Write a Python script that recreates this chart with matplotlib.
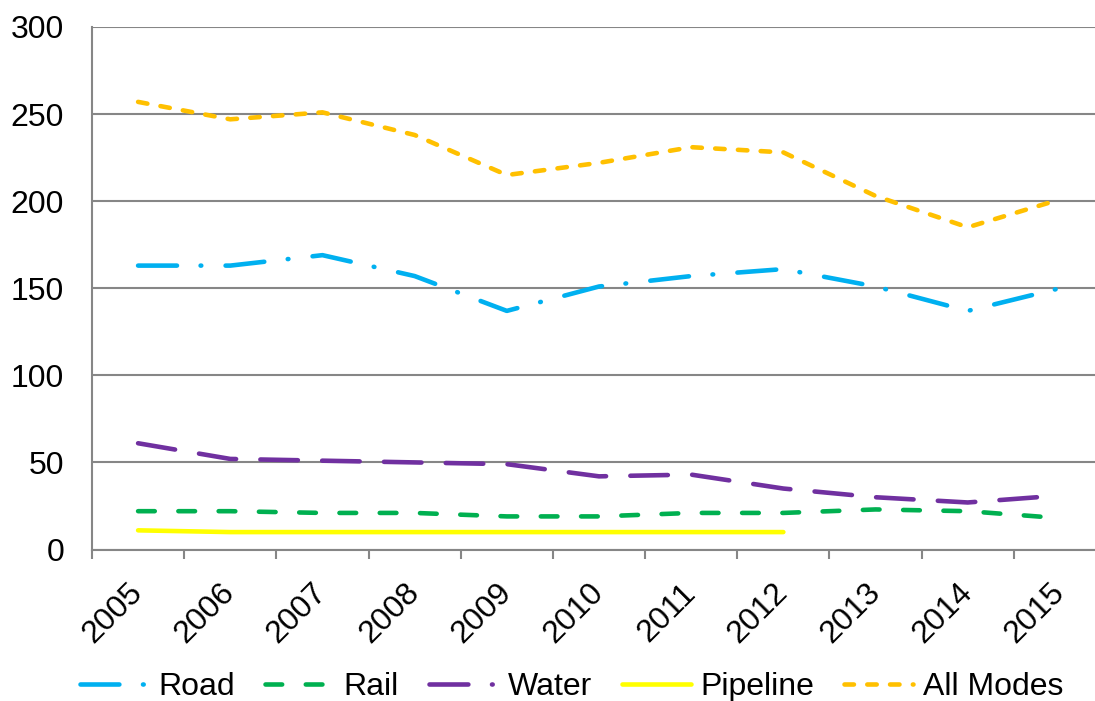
import numpy as np
import matplotlib
matplotlib.use('Agg')
import matplotlib.pyplot as plt
from matplotlib.lines import Line2D

plt.rcParams['font.family'] = ['Liberation Sans', 'DejaVu Sans']
plt.rcParams['lines.scale_dashes'] = False

years = ['2005', '2006', '2007', '2008', '2009', '2010',
         '2011', '2012', '2013', '2014', '2015']
road = [163, 163, 169, 157, 137, 151, 157, 161, 151, 137, 150]
rail = [22, 22, 21, 21, 19, 19, 21, 21, 23, 22, 18]
water = [61, 52, 51, 50, 49, 42, 43, 35, 30, 27, 31]
pipeline = [11, 10, 10, 10, 10, 10, 10, 10]
all_modes = [257, 247, 251, 238, 215, 222, 231, 228, 203, 185, 201]

grid_col = '#868686'
fs = 23
x = np.arange(len(years))

fig = plt.figure(figsize=(10.95, 7.01), dpi=100)
ax = fig.add_axes([92 / 1095, 151.5 / 701, 1014 / 1095, 522.5 / 701])

lw = 3.3
ax.plot(x, road, color='#00B0F0', lw=lw, dashes=(28, 17, 0.5, 17.5),
        dash_capstyle='round', solid_capstyle='round', zorder=3)
ax.plot(x, rail, color='#00B050', lw=lw, dashes=(12, 17),
        dash_capstyle='round', zorder=3)
ax.plot(x, water, color='#7030A0', lw=lw, dashes=(27, 17.5),
        dash_capstyle='round', zorder=3)
ax.plot(x[:len(pipeline)], pipeline, color='#FFFF00', lw=lw,
        solid_capstyle='round', zorder=3)
ax.plot(x, all_modes, color='#FFC000', lw=lw, dashes=(6.8, 9.6),
        dash_capstyle='round', zorder=3)

ax.set_xlim(-0.5, len(years) - 0.5)
ax.set_ylim(0, 300)
ax.set_yticks(np.arange(0, 301, 50))
ax.yaxis.grid(True, color=grid_col, lw=1.5)
ax.set_axisbelow(True)

ax.set_xticks(np.arange(-0.5, len(years), 1))
ax.set_xticklabels([])
ax.set_xticks(x, minor=True)
ax.set_xticklabels(years, minor=True, rotation=45, ha='right',
                   va='center', rotation_mode='anchor', fontsize=fs)
ax.tick_params(axis='x', which='major', length=6.5, width=1.5,
               color=grid_col, direction='out')
ax.tick_params(axis='x', which='minor', length=0, pad=28)
ax.tick_params(axis='y', length=0, pad=20, labelsize=fs)

for s in ['top', 'right']:
    ax.spines[s].set_visible(False)
for s in ['left', 'bottom']:
    ax.spines[s].set_color(grid_col)
    ax.spines[s].set_linewidth(1.5)

handles = [
    Line2D([], [], color='#00B0F0', lw=lw, dashes=(28, 17, 0.5, 17.5),
           dash_capstyle='round'),
    Line2D([], [], color='#00B050', lw=lw, dashes=(12, 17),
           dash_capstyle='round'),
    Line2D([], [], color='#7030A0', lw=lw, dashes=(28, 17, 0.5, 17.5),
           dash_capstyle='round'),
    Line2D([], [], color='#FFFF00', lw=lw, solid_capstyle='round'),
    Line2D([], [], color='#FFC000', lw=lw, dashes=(6.8, 9.6),
           dash_capstyle='round'),
]
labels = ['Road', 'Rail', 'Water', 'Pipeline', 'All Modes']
fig.legend(handles, labels, loc='center', bbox_to_anchor=(0.522, 0.02),
           ncol=5, frameon=False, fontsize=fs, handlelength=2.15,
           handletextpad=0.3, columnspacing=0.95, borderpad=0)

fig.savefig('out.png', dpi=100)
